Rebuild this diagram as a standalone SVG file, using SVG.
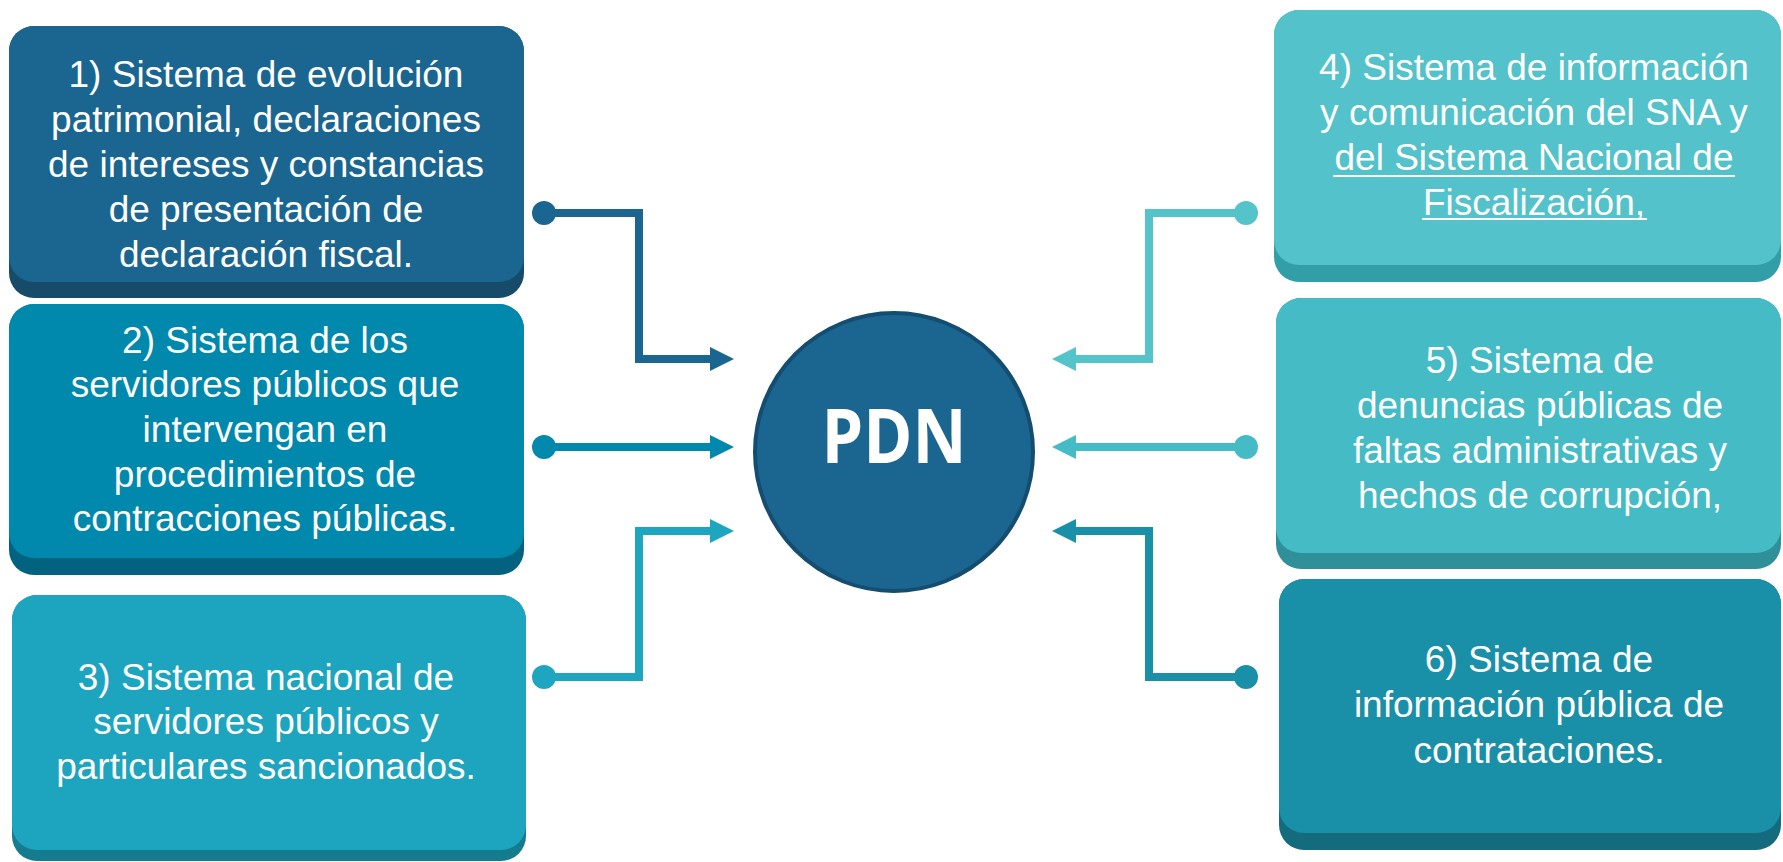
<svg xmlns="http://www.w3.org/2000/svg" width="1783" height="862" viewBox="0 0 1783 862">
<style>
.t{font-family:"Liberation Sans",Arial,sans-serif;font-size:37px;fill:#ffffff;text-anchor:middle}
.ul{stroke:#ffffff;stroke-width:2.2}
.c{fill:none;stroke-width:8;stroke-linejoin:miter;stroke-linecap:butt}
.pdn{font-family:"Open Sans","DejaVu Sans",sans-serif;font-weight:700;font-size:76px;fill:#ffffff;text-anchor:middle}
</style>
<rect width="1783" height="862" fill="#ffffff"/>
<g id="node1">
<rect x="9" y="26" width="515" height="272" rx="25" fill="#174b6a"/>
<rect x="9" y="26" width="515" height="256" rx="25" fill="#1a6690"/>
<text class="t"><tspan x="266" y="87">1) Sistema de evolución</tspan><tspan x="266" y="132">patrimonial, declaraciones</tspan><tspan x="266" y="177">de intereses y constancias</tspan><tspan x="266" y="222">de presentación de</tspan><tspan x="266" y="267">declaración fiscal.</tspan></text>
</g>
<g id="node2">
<rect x="9" y="304" width="515" height="271" rx="25" fill="#03627f"/>
<rect x="9" y="304" width="515" height="254" rx="25" fill="#0088ad"/>
<text class="t"><tspan x="265" y="353">2) Sistema de los</tspan><tspan x="265" y="397">servidores públicos que</tspan><tspan x="265" y="442">intervengan en</tspan><tspan x="265" y="487">procedimientos de</tspan><tspan x="265" y="531">contracciones públicas.</tspan></text>
</g>
<g id="node3">
<rect x="12" y="595" width="514" height="266" rx="25" fill="#157b8f"/>
<rect x="12" y="595" width="514" height="255" rx="25" fill="#1da5bf"/>
<text class="t"><tspan x="266" y="690">3) Sistema nacional de</tspan><tspan x="266" y="734">servidores públicos y</tspan><tspan x="266" y="779">particulares sancionados.</tspan></text>
</g>
<g id="node4">
<rect x="1274" y="10" width="507" height="272" rx="25" fill="#319ea8"/>
<rect x="1274" y="10" width="507" height="255" rx="25" fill="#53c2ca"/>
<text class="t"><tspan x="1534" y="80">4) Sistema de información</tspan><tspan x="1534" y="125">y comunicación del SNA y</tspan><tspan x="1534" y="170">del Sistema Nacional de</tspan><tspan x="1534" y="215">Fiscalización,</tspan></text>
<line class="ul" x1="1333" y1="176" x2="1735" y2="176"/>
<line class="ul" x1="1422" y1="219" x2="1647" y2="219"/>
</g>
<g id="node5">
<rect x="1276" y="298" width="505" height="271" rx="25" fill="#2f9099"/>
<rect x="1276" y="298" width="505" height="255" rx="25" fill="#45bbc5"/>
<text class="t"><tspan x="1540" y="373">5) Sistema de</tspan><tspan x="1540" y="418">denuncias públicas de</tspan><tspan x="1540" y="463">faltas administrativas y</tspan><tspan x="1540" y="508">hechos de corrupción,</tspan></text>
</g>
<g id="node6">
<rect x="1279" y="579" width="502" height="271" rx="25" fill="#146b7e"/>
<rect x="1279" y="579" width="502" height="254" rx="25" fill="#1a8fa8"/>
<text class="t"><tspan x="1539" y="672">6) Sistema de</tspan><tspan x="1539" y="717">información pública de</tspan><tspan x="1539" y="763">contrataciones.</tspan></text>
</g>
<g id="pdn">
<circle cx="894" cy="452" r="139" fill="#1a6690" stroke="#154d70" stroke-width="4"/>
<text class="pdn" x="894" y="463" textLength="145" lengthAdjust="spacingAndGlyphs">PDN</text>
</g>
<g id="connectors">
<path class="c" stroke="#1a6690" d="M544,213 H639 V359 H712"/>
<circle cx="544" cy="213" r="12" fill="#1a6690"/>
<polygon points="710,347 734,359 710,371" fill="#1a6690"/>
<path class="c" stroke="#0088ad" d="M544,447 H712"/>
<circle cx="544" cy="447" r="12" fill="#0088ad"/>
<polygon points="710,435 734,447 710,459" fill="#0088ad"/>
<path class="c" stroke="#1ea6c0" d="M544,677 H639 V531 H712"/>
<circle cx="544" cy="677" r="12" fill="#1ea6c0"/>
<polygon points="710,519 734,531 710,543" fill="#1ea6c0"/>
<path class="c" stroke="#55c3ca" d="M1246,213 H1149 V359 H1074"/>
<circle cx="1246" cy="213" r="12" fill="#55c3ca"/>
<polygon points="1076,347 1052,359 1076,371" fill="#55c3ca"/>
<path class="c" stroke="#45bbc5" d="M1246,447 H1074"/>
<circle cx="1246" cy="447" r="12" fill="#45bbc5"/>
<polygon points="1076,435 1052,447 1076,459" fill="#45bbc5"/>
<path class="c" stroke="#1a8fa8" d="M1246,677 H1149 V531 H1074"/>
<circle cx="1246" cy="677" r="12" fill="#1a8fa8"/>
<polygon points="1076,519 1052,531 1076,543" fill="#1a8fa8"/>
</g>
</svg>
